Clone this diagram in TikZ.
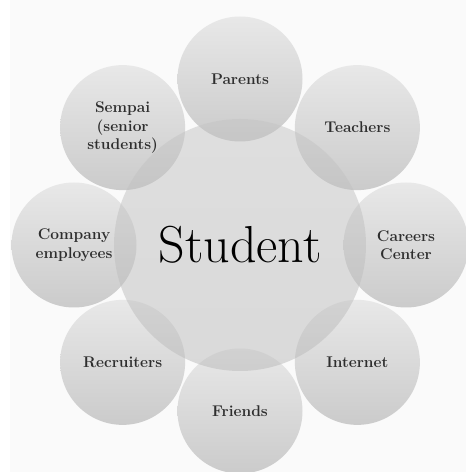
\documentclass[tikz,border=0pt]{standalone}
\usetikzlibrary{calc}
\definecolor{txt}{HTML}{2E2E2E}
\definecolor{otop}{HTML}{E8E8E8}
\definecolor{obot}{HTML}{CBCBCB}
\definecolor{ctop}{HTML}{C4C4C4}
\definecolor{cbot}{HTML}{BABABA}
\tikzset{
  outer/.style={circle, minimum size=125pt, inner sep=0pt, top color=otop, bottom color=obot,
    align=center, text=txt, font=\fontsize{15.5}{18.5}\selectfont\bfseries},
  centre/.style={circle, minimum size=252pt, inner sep=0pt, top color=ctop, bottom color=cbot,
    fill opacity=0.5, text opacity=1, text=black, font=\fontsize{52}{58}\selectfont}
}
\begin{document}
\begin{tikzpicture}[x=1pt,y=1pt]
\useasboundingbox (0,0) rectangle (466,472);
\clip (0,0) rectangle (466,472);
\fill[white] (0,0) rectangle (466,472);
\fill[black!2] (10,0) rectangle (466,472);
\coordinate (C) at (240,227);
\node[outer] (parents) at ($(C)+(90:166)$) {Parents};
\node[outer] (teachers) at ($(C)+(45:166)$) {Teachers};
\node[outer] (careers) at ($(C)+(0:166)$) {Careers\\Center};
\node[outer] (internet) at ($(C)+(-45:166)$) {Internet};
\node[outer] (friends) at ($(C)+(-90:166)$) {Friends};
\node[outer] (recruiters) at ($(C)+(-135:166)$) {Recruiters};
\node[outer] (company) at ($(C)+(180:166)$) {Company\\employees};
\node[outer] (sempai) at ($(C)+(135:166)$) {Sempai\\(senior\\students)};
\node[centre] (student) at (C) {Student};
\end{tikzpicture}
\end{document}
